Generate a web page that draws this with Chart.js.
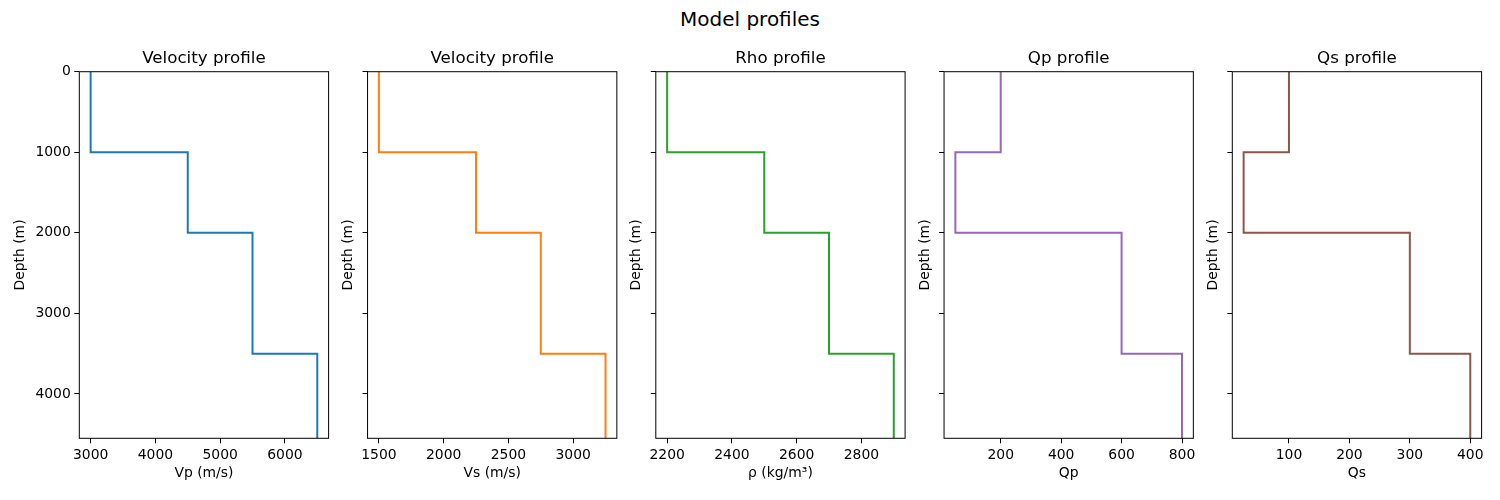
<!DOCTYPE html>
<html>
<head>
<meta charset="utf-8">
<script src="https://cdn.jsdelivr.net/npm/chart.js@4.4.0/dist/chart.umd.min.js"></script>
<style>
    body { margin: 0; background: #fff; width: 1500px; height: 500px; position: relative; overflow: hidden; font-family: 'DejaVu Sans', sans-serif; }
    #suptitle { position: absolute; left: 0; top: 7px; width: 1500px; text-align: center; font-size: 20px; line-height: 24px; color: #000; }
    canvas { position: absolute; }
</style>
</head>
<body>
<div id="suptitle">Model profiles</div>
<div id="panels"></div>
<script>
// Layer model (depth in m)
const layerTops = [0, 1000, 2000, 3500];
const maxDepth = 4550;

const vp = [3000, 4500, 5500, 6500];
const vs = [1500, 2250, 2750, 3250];
const rho = [2200, 2500, 2700, 2900];
const qp = [200, 50, 600, 800];
const qs = [100, 25, 300, 400];

// Tick labels
const depthTicks = [0, 1000, 2000, 3000, 4000];
const vpTicks = [3000, 4000, 5000, 6000];
const vsTicks = [1500, 2000, 2500, 3000];
const rhoTicks = [2200, 2400, 2600, 2800];
const qpTicks = [200, 400, 600, 800];
const qsTicks = [100, 200, 300, 400];

const titles = ['Velocity profile', 'Velocity profile', 'Rho profile', 'Qp profile', 'Qs profile'];
const xLabels = ['Vp (m/s)', 'Vs (m/s)', 'ρ (kg/m³)', 'Qp', 'Qs'];
const colors = ['#1f77b4', '#ff7f0e', '#2ca02c', '#9467bd', '#8c564b'];

const series = [vp, vs, rho, qp, qs];
const xTicks = [vpTicks, vsTicks, rhoTicks, qpTicks, qsTicks];

// Panel geometry (page pixels)
const plotTop = 71.7, plotBottom = 438.3;
const plotLeft0 = 79.3, plotWidth = 249.3, plotStep = 288.25;
const canvasTop = 40, canvasHeight = 460;
const xTitleCenter = 473;

const FONT = "'DejaVu Sans', sans-serif";
Chart.defaults.font.family = FONT;
Chart.defaults.color = '#000';

// Build the step curve: each layer is a vertical segment
function stepPoints(values) {
    const pts = [];
    values.forEach((v, i) => {
        const bottom = i + 1 < layerTops.length ? layerTops[i + 1] : maxDepth;
        pts.push({ x: v, y: layerTops[i] }, { x: v, y: bottom });
    });
    return pts;
}

// matplotlib-style 5% margins
function paddedRange(values) {
    const lo = Math.min(...values), hi = Math.max(...values);
    const m = (hi - lo) * 0.05;
    return [lo - m, hi + m];
}

// Draw the full box around the plot area
const frame = {
    id: 'frame',
    afterDraw(chart) {
        const { ctx, chartArea: a } = chart;
        ctx.save();
        ctx.strokeStyle = '#000';
        ctx.lineWidth = 1;
        ctx.strokeRect(a.left, a.top, a.right - a.left, a.bottom - a.top);
        ctx.restore();
    }
};

const plainNumber = v => String(v);
const charts = [];

series.forEach((values, i) => {
    const plotLeft = plotLeft0 + plotStep * i;
    const yWidth = i === 0 ? 67.2 : 27.4;
    const scaleLeft = plotLeft - yWidth;
    const canvasLeft = Math.floor(scaleLeft) - 2;
    const padLeft = scaleLeft - canvasLeft;
    const canvasWidth = Math.ceil(padLeft + yWidth + plotWidth + 20);
    const padRight = canvasWidth - padLeft - yWidth - plotWidth;

    const xTitleOffset = 13.9 * 1.2 / 2;
    const scaleBottom = xTitleCenter - canvasTop + xTitleOffset;
    const padBottom = canvasHeight - scaleBottom;
    const xHeight = scaleBottom - (plotBottom - canvasTop);
    const titleBlock = plotTop - canvasTop;

    const canvas = document.createElement('canvas');
    canvas.width = canvasWidth;
    canvas.height = canvasHeight;
    canvas.style.left = canvasLeft + 'px';
    canvas.style.top = canvasTop + 'px';
    canvas.style.width = canvasWidth + 'px';
    canvas.style.height = canvasHeight + 'px';
    document.getElementById('panels').appendChild(canvas);

    const [xMin, xMax] = paddedRange(values);
    const tickList = xTicks[i];

    charts.push(new Chart(canvas.getContext('2d'), {
        type: 'scatter',
        data: {
            datasets: [{
                data: stepPoints(values),
                showLine: true,
                borderColor: colors[i],
                borderWidth: 2,
                pointRadius: 0,
                fill: false
            }]
        },
        options: {
            responsive: false,
            animation: false,
            devicePixelRatio: 1,
            layout: { padding: { left: padLeft, right: padRight, top: 0, bottom: padBottom } },
            plugins: {
                legend: { display: false },
                tooltip: { enabled: false },
                title: {
                    display: true,
                    text: titles[i],
                    fullSize: false,
                    color: '#000',
                    font: { size: 16.7, weight: 'normal', family: FONT },
                    padding: { top: 8.4, bottom: titleBlock - 16.7 * 1.2 - 8.4 }
                }
            },
            scales: {
                x: {
                    type: 'linear',
                    min: xMin,
                    max: xMax,
                    afterBuildTicks: scale => { scale.ticks = tickList.map(v => ({ value: v })); },
                    afterFit: scale => { scale.height = xHeight; },
                    grid: { display: true, drawOnChartArea: false, drawTicks: true, tickLength: 5, color: '#000' },
                    border: { display: false },
                    ticks: { font: { size: 13.9 }, padding: 3.5, maxRotation: 0, callback: plainNumber },
                    title: { display: true, text: xLabels[i], font: { size: 13.9 }, padding: 0 }
                },
                y: {
                    type: 'linear',
                    min: 0,
                    max: maxDepth,
                    reverse: true,
                    afterBuildTicks: scale => { scale.ticks = depthTicks.map(v => ({ value: v })); },
                    afterFit: scale => { scale.width = yWidth; },
                    grid: { display: true, drawOnChartArea: false, drawTicks: true, tickLength: 5, color: '#000' },
                    border: { display: false },
                    ticks: { display: i === 0, font: { size: 13.9 }, padding: 3.5, callback: plainNumber },
                    title: { display: true, text: 'Depth (m)', font: { size: 13.9 }, padding: 0 }
                }
            }
        },
        plugins: [frame]
    }));
});
</script>
</body>
</html>
